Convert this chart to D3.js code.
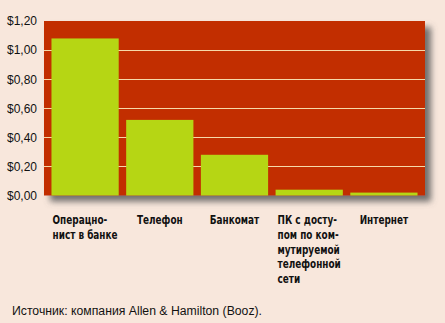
<!DOCTYPE html>
<html><head><meta charset="utf-8">
<script src="https://cdn.jsdelivr.net/npm/d3@7/dist/d3.min.js"></script>
<style>
html,body{margin:0;padding:0;background:#f8e7dc;}
svg{display:block;}
</style></head>
<body>
<script>
const categories = [
  ["Операцно-", "нист в банке"],
  ["Телефон"],
  ["Банкомат"],
  ["ПК с досту-", "пом по ком-", "мутируемой", "телефонной", "сети"],
  ["Интернет"]
];
const values = [1.08, 0.52, 0.28, 0.04, 0.02];
const tickValues = [0, 0.2, 0.4, 0.6, 0.8, 1.0, 1.2];
const tickLabels = ["$0,00", "$0,20", "$0,40", "$0,60", "$0,80", "$1,00", "$1,20"];
const sourceText = "Источник: компания Allen & Hamilton (Booz).";

(function () {
const W = 445, H = 323;
const svg = d3.select("body").append("svg").attr("width", W).attr("height", H);
svg.append("rect").attr("width", W).attr("height", H).attr("fill", "#f8e7dc");

const defs = svg.append("defs");
const f = defs.append("filter").attr("id", "sh").attr("x", "-5%").attr("y", "-5%").attr("width", "120%").attr("height", "125%");
f.append("feDropShadow").attr("dx", 6).attr("dy", 6).attr("stdDeviation", 3)
  .attr("flood-color", "#5a5a5a").attr("flood-opacity", 0.85);

const pL = 44, pR = 425, pT = 21, pB = 195.5;
const x = d3.scaleBand().domain(d3.range(values.length)).range([pL, pR])
  .paddingInner(0.1).paddingOuter(0.1);
const y = d3.scaleLinear().domain([0, 1.2]).range([pB, pT]);

svg.append("rect").attr("x", pL).attr("y", pT).attr("width", pR - pL).attr("height", pB - pT)
  .attr("fill", "#c22d00").attr("filter", "url(#sh)");

svg.append("g").selectAll("line").data(tickValues.filter(v => v > 0 && v < 1.2)).join("line")
  .attr("x1", pL).attr("x2", pR)
  .attr("y1", d => Math.round(y(d)) + 0.5).attr("y2", d => Math.round(y(d)) + 0.5)
  .attr("stroke", "#f6d9a8").attr("stroke-width", 1);

svg.append("g").selectAll("rect").data(values).join("rect")
  .attr("x", (d, i) => x(i)).attr("width", x.bandwidth())
  .attr("y", d => y(d)).attr("height", d => pB - y(d))
  .attr("fill", "#b6d614");

const yAxis = d3.axisLeft(y).tickValues(tickValues).tickFormat((d, i) => tickLabels[i]).tickSize(0).tickPadding(7);
const ga = svg.append("g").attr("transform", `translate(${pL},0)`).call(yAxis);
ga.select(".domain").remove();
ga.selectAll("text").attr("font-family", "Liberation Sans, Arial, sans-serif").attr("font-size", 12).attr("fill", "#111");

const sx = 0.86;
const lg = svg.append("g");
categories.forEach((lines, i) => {
  const t = lg.append("text")
    .attr("font-family", "'DejaVu Sans Condensed', 'DejaVu Sans', sans-serif")
    .attr("font-weight", "bold").attr("font-size", 11.5).attr("fill", "#111");
  lines.forEach((s, j) => {
    t.append("tspan").attr("x", 0).attr("y", 224 + j * 14.8).text(s);
  });
  let maxw = 0;
  t.selectAll("tspan").each(function () { maxw = Math.max(maxw, this.getComputedTextLength()); });
  const cx = x(i) + x.bandwidth() / 2;
  t.attr("transform", `translate(${cx - maxw * sx / 2},0) scale(${sx},1)`);
});

svg.append("text").attr("x", 12).attr("y", 315)
  .attr("font-family", "'Liberation Sans', Arial, sans-serif")
  .attr("font-size", 12.5).attr("fill", "#111")
  .attr("textLength", 250).attr("lengthAdjust", "spacingAndGlyphs")
  .text(sourceText);
})();
</script>
</body></html>
